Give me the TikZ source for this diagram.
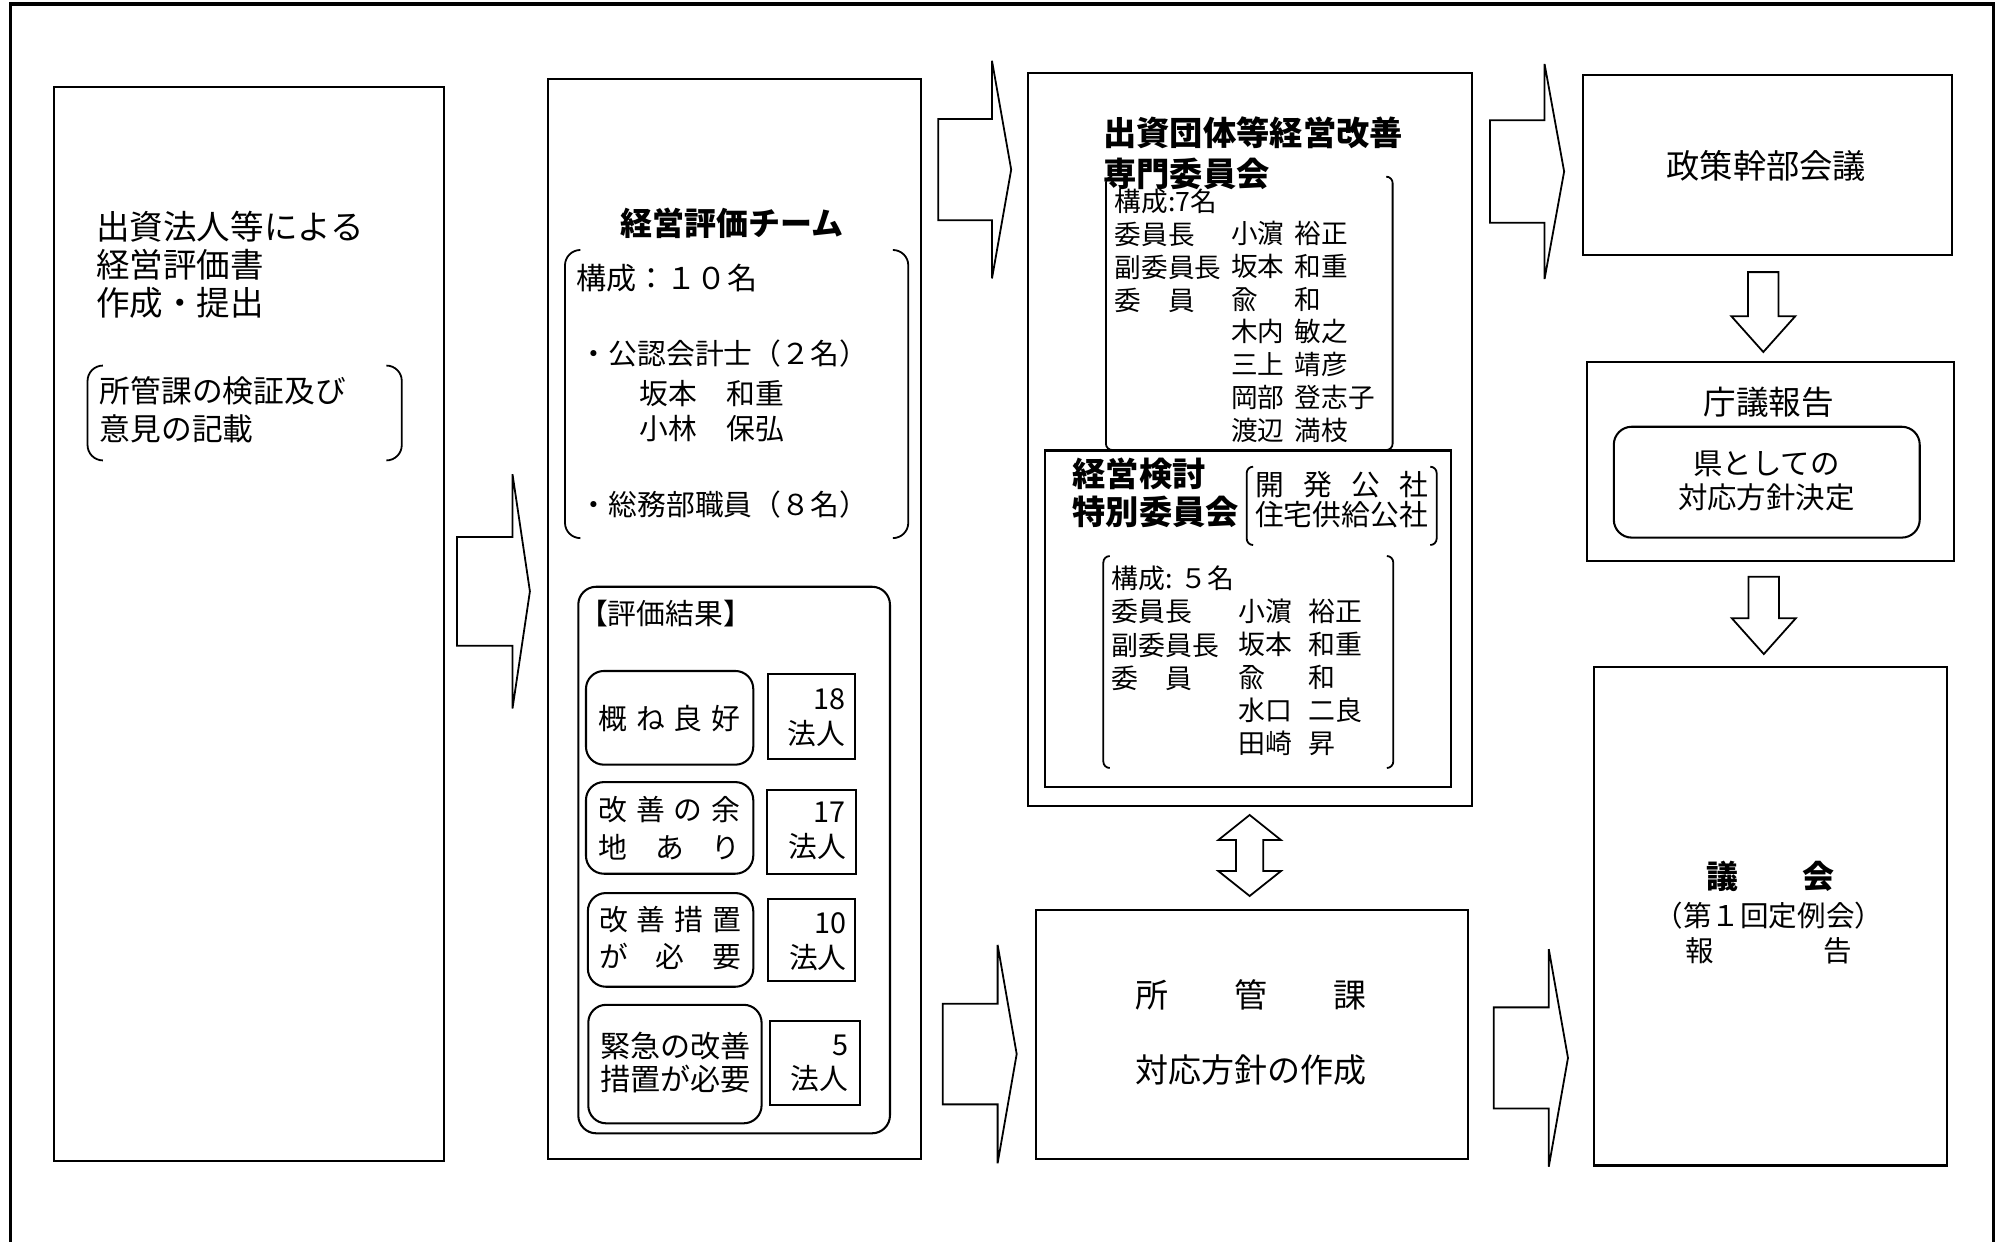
\documentclass[tikz,border=0pt]{standalone}
\usepackage{fontspec}
\setmainfont{Noto Sans CJK JP}
\newcommand\myfs[2]{\fontsize{#1}{#2}\selectfont}
\newcommand\spr[2]{\hbox to #1pt{#2}}
\newcommand\myrarr[6]{\draw[blk] (#1,{#4-#5}) -- (#2,{#4-#5}) -- (#2,{#4-#6}) -- (#3,#4) -- (#2,{#4+#6}) -- (#2,{#4+#5}) -- (#1,{#4+#5}) -- cycle;}
\newcommand\mydarr[6]{\draw[blk] ({#1-#5},#2) -- ({#1+#5},#2) -- ({#1+#5},#3) -- ({#1+#6},#3) -- (#1,#4) -- ({#1-#6},#3) -- ({#1-#5},#3) -- cycle;}
\newcommand\myudarr[7]{\draw[blk] (#1,#2) -- ({#1+#7},#3) -- ({#1+#6},#3) -- ({#1+#6},#4) -- ({#1+#7},#4) -- (#1,#5) -- ({#1-#7},#4) -- ({#1-#6},#4) -- ({#1-#6},#3) -- ({#1-#7},#3) -- cycle;}
\newcommand\lbrk[4]{\draw[brk, rounded corners=#4pt] ({#1+#4},#2) -- (#1,#2) -- (#1,#3) -- ({#1+#4},#3);}
\newcommand\rbrk[4]{\draw[brk, rounded corners=#4pt] ({#1-#4},#2) -- (#1,#2) -- (#1,#3) -- ({#1-#4},#3);}
\begin{document}
\begin{tikzpicture}[x=1pt,y=-1pt,
  box/.style={draw, line width=1.7pt, inner sep=0pt, outer sep=0pt},
  rbox/.style={draw, line width=1.6pt, rounded corners=14pt, inner sep=0pt, outer sep=0pt},
  brk/.style={line width=1.4pt},
  blk/.style={draw, line width=1.4pt, line join=miter, fill=white},
  frame/.style={line width=2.6pt},
  txt/.style={anchor=west, inner sep=0pt, outer sep=0pt, align=left},
  ctxt/.style={anchor=center, inner sep=0pt, outer sep=0pt, align=center},
  rtxt/.style={anchor=east, inner sep=0pt, outer sep=0pt, align=right}]
\useasboundingbox (0,0) rectangle (1568,970);
\fill[white] (0,0) rectangle (1568,970);
% outer frame
\draw[frame] (8.4,970) -- (8.4,3) -- (1557.5,3) -- (1557.5,970);

% box 1
\node[box, minimum width=305pt, minimum height=839pt] (b1) at (194.5,487.5) {};
\node[txt, font=\myfs{26.2}{29.35}] (t1) at (75.3,206.9) {出資法人等による\\経営評価書\\作成・提出};
\lbrk{68.4}{285.6}{359.7}{12}
\rbrk{313.9}{285.6}{359.7}{12}
\node[txt, font=\myfs{24}{29.3}] (t2) at (78.1,320.3) {所管課の検証及び\\意見の記載};

% box 2
\node[box, minimum width=290.9pt, minimum height=844pt] (b2) at (573.85,483.5) {};
\node[ctxt, font=\bfseries\myfs{25}{30}] (t3) at (572,174.4) {経営評価チーム};
\lbrk{441.4}{195.3}{420.4}{12}
\rbrk{709.6}{195.3}{420.4}{12}
\node[txt, font=\myfs{23.5}{28}] (t4) at (450.5,217.3) {構成：１０名};
\node[txt, font=\myfs{22.5}{28}] (t5) at (453,276) {・公認会計士（２名）};
\node[txt, font=\myfs{22.5}{27.3}] (t6) at (500,321) {坂本　和重\\小林　保弘};
\node[txt, font=\myfs{22.5}{28}] (t7) at (453,394.5) {・総務部職員（８名）};

% evaluation results
\node[rbox, minimum width=243.5pt, minimum height=427pt] (ev) at (573.55,671.9) {};
\node[txt, font=\myfs{22.5}{28}] (t8) at (452.5,479.4) {【評価結果】};

\node[rbox, minimum width=130.7pt, minimum height=73.2pt] (r1) at (523.15,560.8) {};
\node[box, line width=1.6pt, minimum width=67.8pt, minimum height=66.4pt] (c1) at (634.1,559.8) {};
\node[ctxt, font=\myfs{22.5}{28}] (t9) at (523,561) {\spr{111}{概\hfil ね\hfil 良\hfil 好}};
\node[rtxt, font=\myfs{22.5}{27}] (t10) at (660.2,546.6) {18};
\node[rtxt, font=\myfs{22.5}{27}] (t11) at (660.2,573.5) {法人};

\node[rbox, minimum width=130.7pt, minimum height=71.6pt] (r2) at (523.15,646.8) {};
\node[box, line width=1.6pt, minimum width=70pt, minimum height=65.7pt] (c2) at (634,649.75) {};
\node[ctxt, font=\myfs{22.5}{29.8}] (t12) at (523,646.8) {\spr{111}{改\hfil 善\hfil の\hfil 余}\\\spr{111}{地\hfil あ\hfil り}};
\node[rtxt, font=\myfs{22.5}{27}] (t13) at (660.5,634.8) {17};
\node[rtxt, font=\myfs{22.5}{27}] (t14) at (661,661.7) {法人};

\node[rbox, minimum width=129.2pt, minimum height=73.2pt] (r3) at (523.9,734.3) {};
\node[box, line width=1.6pt, minimum width=68.1pt, minimum height=63.7pt] (c3) at (634.25,734.55) {};
\node[ctxt, font=\myfs{22.5}{28.5}] (t15) at (523.5,732.7) {\spr{111}{改\hfil 善\hfil 措\hfil 置}\\\spr{111}{が\hfil 必\hfil 要}};
\node[rtxt, font=\myfs{22.5}{27}] (t16) at (661.5,721.6) {10};
\node[rtxt, font=\myfs{22.5}{27}] (t17) at (661.5,748.5) {法人};

\node[rbox, minimum width=135.4pt, minimum height=92.6pt] (r4) at (527.3,831.3) {};
\node[box, line width=1.6pt, minimum width=70.4pt, minimum height=65.3pt] (c4) at (636.8,830.65) {};
\node[ctxt, font=\myfs{23.5}{25.5}] (t18) at (528,830) {緊急の改善\\措置が必要};
\node[rtxt, font=\myfs{22.5}{27}] (t19) at (662.8,816.4) {5};
\node[rtxt, font=\myfs{22.5}{27}] (t19b) at (662.8,842.3) {法人};

% box 3
\node[box, minimum width=347pt, minimum height=573pt] (b3) at (976.5,343.5) {};
\lbrk{864}{138}{351.6}{5}
\rbrk{1088}{138}{351.6}{5}
\node[txt, font=\bfseries\myfs{26}{31.4}] (t20) at (862,119.7) {出資団体等経営改善\\専門委員会};
\node[txt, font=\myfs{20.8}{25.6}] (t21) at (871,196) {構成:7名\\委員長\\副委員長\\委　員};
\node[txt, font=\myfs{20.8}{25.6}] (t22) at (962,259.2) {小濵\\坂本\\兪\\木内\\三上\\岡部\\渡辺};
\node[txt, font=\myfs{20.8}{25.6}] (t23) at (1011.7,259.2) {裕正\\和重\\和\\敏之\\靖彦\\登志子\\満枝};

% box 3b
\node[box, fill=white, minimum width=317.2pt, minimum height=263pt] (b3b) at (975,483.5) {};
\node[txt, font=\bfseries\myfs{26}{29.9}] (t24) at (838,384.8) {経営検討\\特別委員会};
\lbrk{974}{364.6}{425.8}{5}
\rbrk{1122.4}{364.6}{425.8}{5}
\node[txt, font=\myfs{22.5}{23.3}] (t25) at (980.5,390.6) {\spr{135}{開\hfil 発\hfil 公\hfil 社}\\住宅供給公社};
\lbrk{862}{434.4}{600}{5}
\rbrk{1088.5}{434.4}{600}{5}
\node[txt, font=\myfs{21}{26.1}] (t26) at (868.5,490.8) {構成: ５名\\委員長\\副委員長\\委　員};
\node[txt, font=\myfs{21}{25.7}] (t27) at (967.4,529.3) {小濵\\坂本\\兪\\水口\\田崎};
\node[txt, font=\myfs{21}{25.7}] (t28) at (1022,529.3) {裕正\\和重\\和\\二良\\昇};

% box 4
\node[box, minimum width=337.7pt, minimum height=194.5pt] (b4) at (978.15,808.25) {};
\node[ctxt, font=\myfs{25.8}{30}] (t30) at (977.5,777.3) {\spr{181}{所\hfil 管\hfil 課}};
\node[ctxt, font=\myfs{25.8}{30}] (t31) at (977.5,836) {対応方針の作成};

% box 5
\node[box, minimum width=288.5pt, minimum height=140.4pt] (b5) at (1380.75,128.8) {};
\node[ctxt, font=\myfs{26}{30}] (t32) at (1380,129.7) {政策幹部会議};

% box 6
\node[box, minimum width=286.6pt, minimum height=155pt] (b6) at (1383.3,360.5) {};
\node[ctxt, font=\myfs{25.5}{30}] (t33) at (1382,314) {庁議報告};
\node[rbox, minimum width=239pt, minimum height=86.6pt] (b6r) at (1380.3,376.7) {};
\node[ctxt, font=\myfs{23}{26.5}] (t34) at (1380,375.8) {県としての\\対応方針決定};

% box 7
\node[box, minimum width=275.4pt, minimum height=389.6pt] (b7) at (1383.1,715.8) {};
\node[ctxt, font=\bfseries\myfs{25}{30}] (t35) at (1383,684.4) {\spr{100}{議\hfil 会}};
\node[ctxt, font=\myfs{22.3}{30}] (t36) at (1382,715.3) {（第１回定例会）};
\node[ctxt, font=\myfs{22.3}{30}] (t37) at (1382,743) {\spr{130}{報\hfil 告}};

% block arrows
\myrarr{357}{400.4}{414}{462}{42.5}{91.5}
\myrarr{733}{775}{790}{132.5}{39.5}{85}
\myrarr{736.6}{779.4}{794.3}{823.5}{39.3}{85.3}
\myrarr{1164}{1206.7}{1222}{134}{40}{84}
\myrarr{1167}{1210}{1225}{826.5}{39.5}{85}
\mydarr{1377.6}{212.6}{247}{275}{11.9}{25}
\mydarr{1378}{450.6}{483}{511}{11.9}{25}
\myudarr{976.3}{636.7}{656.3}{680.5}{700}{10.7}{24.5}
\end{tikzpicture}
\end{document}
